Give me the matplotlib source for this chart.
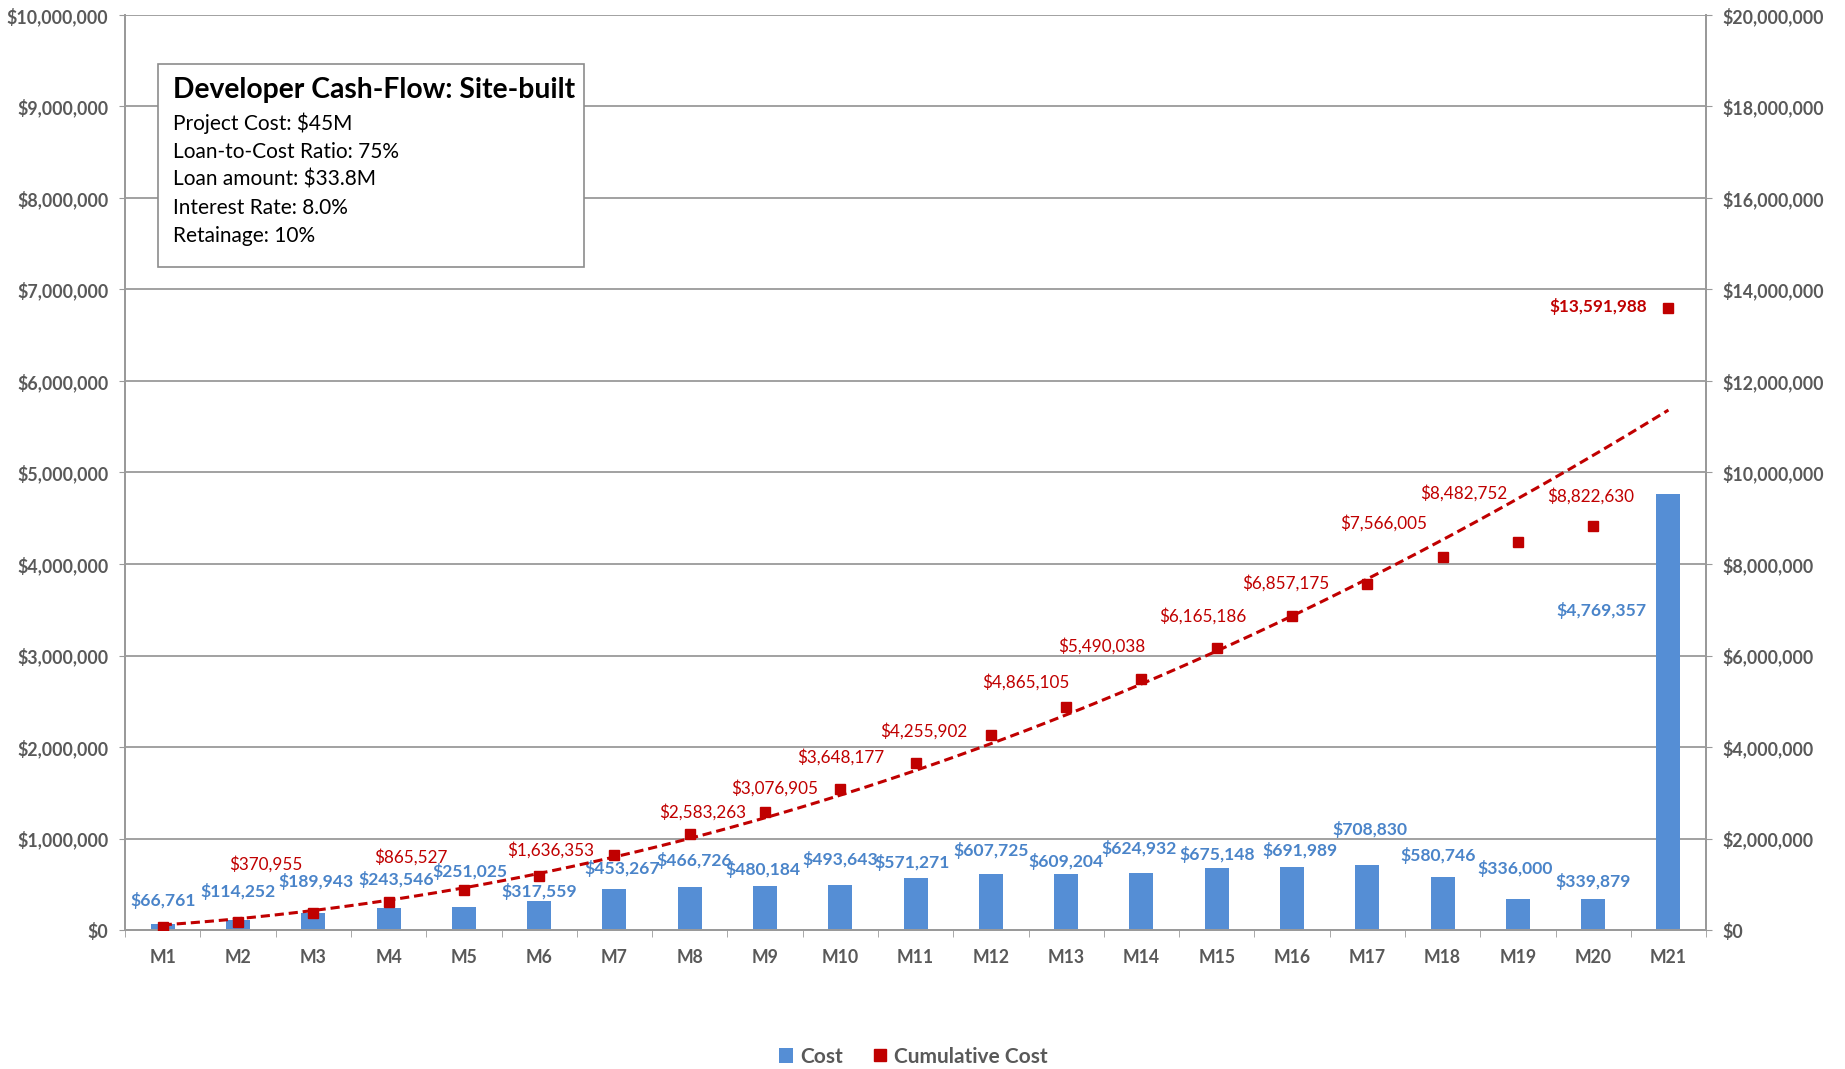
import numpy as np
import matplotlib.pyplot as plt
from matplotlib.patches import Rectangle
from matplotlib.ticker import FuncFormatter, MultipleLocator

plt.rcParams['font.family'] = ['Lato', 'DejaVu Sans']

months = ['M%d' % i for i in range(1, 22)]
cost = [66761, 114252, 189943, 243546, 251025, 317559, 453267, 466726, 480184,
        493643, 571271, 607725, 609204, 624932, 675148, 691989, 708830, 580746,
        336000, 339879, 4769357]
cumulative = [66761, 181013, 370955, 614501, 865527, 1183086, 1636353, 2103079,
              2583263, 3076905, 3648177, 4255902, 4865105, 5490038, 6165186,
              6857175, 7566005, 8146751, 8482752, 8822630, 13591988]
# which cumulative points carry a label in the original
cum_labelled = [2, 4, 6, 8, 9, 10, 11, 12, 13, 14, 15, 16, 18, 19, 20]

info_title = 'Developer Cash-Flow: Site-built'
info_lines = ['Project Cost: $45M', 'Loan-to-Cost Ratio: 75%', 'Loan amount: $33.8M',
              'Interest Rate: 8.0%', 'Retainage: 10%']

# label nudges in pixels (label centre relative to bar top / marker)
bar_dx = [0, 0, 3, 8, 6, 0, 8, 4, -2, 0, -3, 0, 0, -2, 0, 8, 3, -4, -3, 0, -67]
bar_dy = [23, 28, 31, 28, 36, 9, 20, 27, 17, 25, 15, 24, 13, 24, 14, 16, 36, 21, 31, 17, -117]
cum_dx = {2: -47, 4: -53, 6: -64, 8: -62, 9: -66, 10: -75, 11: -67, 12: -40, 13: -40,
          14: -14, 15: -6, 16: 16, 18: -54, 19: -2, 20: -70}
cum_dy = {2: 49, 4: 33, 6: 5, 8: 0, 9: 1, 10: 6, 11: 4, 12: 25, 13: 33,
          14: 32, 15: 33, 16: 61, 18: 49, 19: 30, 20: 2}

blue = '#558ED5'
label_blue = '#4A84C9'
red = '#C00000'
grey = '#595959'

fig = plt.figure(figsize=(18.45, 10.69), dpi=100)
ax = fig.add_axes([0.0678, 0.130, 0.8569, 0.856])
ax2 = ax.twinx()

x = np.arange(len(months))
bars = ax.bar(x, cost, 0.32, color=blue, zorder=2, label='Cost')
ax.set_ylim(0, 10000000)
ax.set_xlim(-0.5, len(months) - 0.5)
ax.yaxis.set_major_locator(MultipleLocator(1000000))
ax.yaxis.set_major_formatter(FuncFormatter(lambda v, p: '${:,.0f}'.format(v)))
ax.grid(axis='y', color='#9A9A9A', linewidth=1.3, zorder=0)
ax.set_axisbelow(True)

ax2.set_ylim(0, 20000000)
ax2.yaxis.set_major_locator(MultipleLocator(2000000))
ax2.yaxis.set_major_formatter(FuncFormatter(lambda v, p: '${:,.0f}'.format(v)))

ax.set_xticks(x)
ax.set_xticklabels(months)
ax.set_xticks(np.arange(-0.5, len(months)), minor=True)
ax.tick_params(axis='x', which='major', length=0, pad=14)
ax.tick_params(axis='x', which='minor', length=5, color='#9A9A9A')

for a in (ax, ax2):
    for s in a.spines.values():
        s.set_color('#9A9A9A')
        s.set_linewidth(1.3)
    a.tick_params(axis='y', length=4, color='#9A9A9A', labelsize=12.8, labelcolor=grey, pad=8)
    for t in a.get_yticklabels():
        t.set_fontweight('bold')
ax.spines['top'].set_visible(False)
ax2.spines['top'].set_visible(False)
for t in ax.get_xticklabels():
    t.set_fontsize(12.7)
    t.set_fontweight('bold')
    t.set_color(grey)

# cumulative markers and polynomial trendline (right axis)
pts, = ax2.plot(x, cumulative, 's', color=red, markersize=7.5, zorder=4,
                linestyle='none', label='Cumulative Cost')
coef = np.polyfit(x, cumulative, 2)
xs = np.linspace(0, len(months) - 1, 200)
ax2.plot(xs, np.polyval(coef, xs), '--', color=red, linewidth=2.2, dashes=(3, 1.6), zorder=3)

# bar labels
for i, v in enumerate(cost):
    ax.annotate('${:,}'.format(v), (x[i], v), xytext=(bar_dx[i], bar_dy[i]),
                textcoords='offset pixels', ha='center', va='center',
                fontsize=12.6, fontweight='bold', color=label_blue, zorder=5)

# cumulative labels
for i in cum_labelled:
    ax2.annotate('${:,}'.format(cumulative[i]), (x[i], cumulative[i]),
                 xytext=(cum_dx[i], cum_dy[i]), textcoords='offset pixels',
                 ha='center', va='center', fontsize=12.3, color=red,
                 fontweight='bold' if i == len(months) - 1 else 'normal', zorder=5)

# info box
ax2.add_patch(Rectangle((0.021, 0.725), 0.269, 0.221, transform=ax2.transAxes,
                        facecolor='white', edgecolor='#8C8C8C', linewidth=1.2, zorder=6))
ax2.text(0.030, 0.918, info_title, transform=ax2.transAxes, fontsize=20.3,
         fontweight='bold', va='center', ha='left', zorder=7)
for k, line in enumerate(info_lines):
    ax2.text(0.030, 0.8816 - k * 0.0309, line, transform=ax2.transAxes, fontsize=15,
             va='center', ha='left', zorder=7)

leg = fig.legend([bars, pts], ['Cost', 'Cumulative Cost'], loc='center',
                 bbox_to_anchor=(0.495, 0.0115), ncol=2, frameon=False,
                 handlelength=0.7, handletextpad=0.35, columnspacing=1.4,
                 prop={'size': 15, 'weight': 'bold'})
for t in leg.get_texts():
    t.set_color(grey)
leg.legend_handles[1].set_markersize(8)

fig.savefig('out.png', dpi=100)
